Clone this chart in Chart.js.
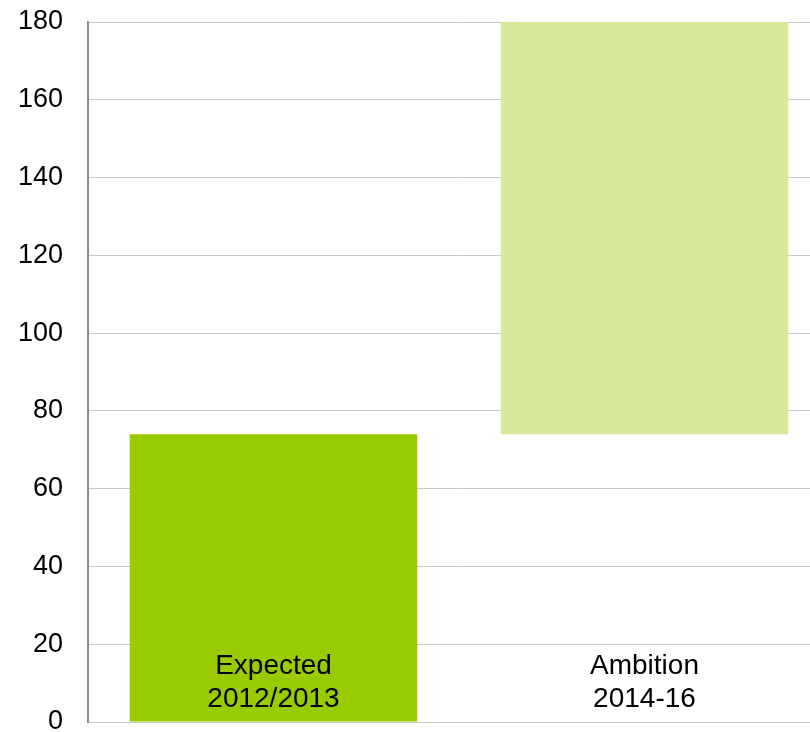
<!doctype html>
<html>
<head>
<script src="https://cdn.jsdelivr.net/npm/chart.js@4"></script>
<style>
  html, body { margin: 0; padding: 0; overflow: hidden; background: #fff; }
  #wrap { position: absolute; left: 0; top: 0; width: 840px; height: 760px; }
</style>
</head>
<body>
<div id="wrap"><canvas id="chart"></canvas></div>
<script>
  const categories = [['Expected', '2012/2013'], ['Ambition', '2014-16']]
  const lows = [0, 74]
  const highs = [74, 180]
  const barColors = ['#99cc00', '#d6ea9a']
  const yTicks = [0, 20, 40, 60, 80, 100, 120, 140, 160, 180]

  const FONT = 'Liberation Sans, Arial, sans-serif'

  // category names sit inside the bars, near the bottom
  const insideLabels = {
    id: 'insideLabels',
    afterDatasetsDraw(chart) {
      const ctx = chart.ctx
      const x = chart.scales.x
      ctx.save()
      ctx.font = '28px ' + FONT
      ctx.fillStyle = '#000'
      ctx.textAlign = 'center'
      ctx.textBaseline = 'middle'
      categories.forEach((lines, i) => {
        const cx = x.getPixelForValue(i)
        lines.forEach((t, j) => ctx.fillText(t, cx, 666 + j * 33))
      })
      ctx.restore()
    }
  }

  new Chart(document.getElementById('chart'), {
    type: 'bar',
    data: {
      labels: categories.map(c => c.join(' ')),
      datasets: [{
        data: lows.map((lo, i) => [lo, highs[i]]),
        backgroundColor: barColors,
        borderWidth: 0,
        categoryPercentage: 1,
        barPercentage: 0.775
      }]
    },
    options: {
      responsive: true,
      maintainAspectRatio: false,
      animation: false,
      layout: { padding: { left: 0, top: 22, right: 10, bottom: 38 } },
      plugins: { legend: { display: false }, tooltip: { enabled: false } },
      scales: {
        x: { display: false },
        y: {
          min: 0,
          max: 180,
          afterFit: s => { s.width = 88; s.paddingTop = 0; s.paddingBottom = 0 },
          afterBuildTicks: s => { s.ticks = yTicks.map(v => ({ value: v })) },
          ticks: { padding: 25, color: '#000', font: { family: FONT, size: 27 } },
          grid: { color: '#c8c8c8', lineWidth: 1, drawTicks: false },
          border: { color: '#8c8c8c', width: 2 }
        }
      }
    },
    plugins: [insideLabels]
  })
</script>
</body>
</html>
